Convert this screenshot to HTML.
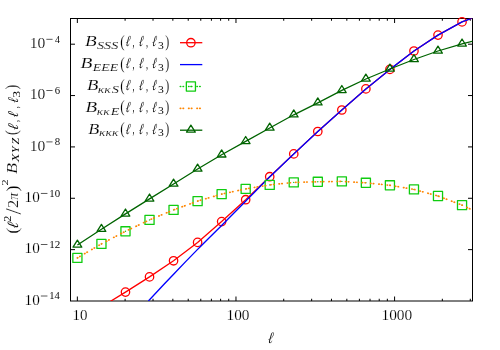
<!DOCTYPE html>
<html><head><meta charset="utf-8"><title>plot</title>
<style>html,body{margin:0;padding:0;background:#fff;}svg{display:block;will-change:transform;}text{font-family:"Liberation Serif",serif;fill:#000;}.i{font-style:italic;}</style></head><body>
<svg width="500" height="350" viewBox="0 0 500 350">
<rect width="500" height="350" fill="#fff"/>
<defs><clipPath id="c"><rect x="70.50" y="18.50" width="402.00" height="282.50"/></clipPath></defs>
<path d="M77.35 301.00v-4.50M77.35 18.50v4.50M125.10 301.00v-2.25M125.10 18.50v2.25M153.03 301.00v-2.25M153.03 18.50v2.25M172.85 301.00v-2.25M172.85 18.50v2.25M188.22 301.00v-2.25M188.22 18.50v2.25M200.78 301.00v-2.25M200.78 18.50v2.25M211.40 301.00v-2.25M211.40 18.50v2.25M220.60 301.00v-2.25M220.60 18.50v2.25M228.71 301.00v-2.25M228.71 18.50v2.25M235.97 301.00v-4.50M235.97 18.50v4.50M283.72 301.00v-2.25M283.72 18.50v2.25M311.65 301.00v-2.25M311.65 18.50v2.25M331.47 301.00v-2.25M331.47 18.50v2.25M346.84 301.00v-2.25M346.84 18.50v2.25M359.40 301.00v-2.25M359.40 18.50v2.25M370.02 301.00v-2.25M370.02 18.50v2.25M379.22 301.00v-2.25M379.22 18.50v2.25M387.33 301.00v-2.25M387.33 18.50v2.25M394.59 301.00v-4.50M394.59 18.50v4.50M442.34 301.00v-2.25M442.34 18.50v2.25M470.27 301.00v-2.25M470.27 18.50v2.25M70.50 249.64h4.50M472.50 249.64h-4.50M70.50 198.28h4.50M472.50 198.28h-4.50M70.50 146.92h4.50M472.50 146.92h-4.50M70.50 95.56h4.50M472.50 95.56h-4.50M70.50 44.20h4.50M472.50 44.20h-4.50" stroke="#000" stroke-width="1" fill="none"/>
<rect x="70.50" y="18.50" width="402.00" height="282.50" fill="none" stroke="#000" stroke-width="1"/>
<g clip-path="url(#c)" fill="none" stroke-linejoin="round"><polyline points="77.40,321.00 101.44,306.90 125.48,292.10 149.52,276.90 173.56,260.80 197.60,242.40 221.64,221.60 245.68,199.70 269.72,176.70 293.76,153.90 317.80,131.50 341.84,110.00 365.88,88.90 389.92,69.40 413.96,51.00 438.00,35.10 462.04,21.90 486.08,13.00" stroke="#ff0000" stroke-width="1.30"/></g>
<circle cx="125.48" cy="292.10" r="4.20" stroke="#ff0000" stroke-width="1.30" fill="none"/>
<circle cx="149.52" cy="276.90" r="4.20" stroke="#ff0000" stroke-width="1.30" fill="none"/>
<circle cx="173.56" cy="260.80" r="4.20" stroke="#ff0000" stroke-width="1.30" fill="none"/>
<circle cx="197.60" cy="242.40" r="4.20" stroke="#ff0000" stroke-width="1.30" fill="none"/>
<circle cx="221.64" cy="221.60" r="4.20" stroke="#ff0000" stroke-width="1.30" fill="none"/>
<circle cx="245.68" cy="199.70" r="4.20" stroke="#ff0000" stroke-width="1.30" fill="none"/>
<circle cx="269.72" cy="176.70" r="4.20" stroke="#ff0000" stroke-width="1.30" fill="none"/>
<circle cx="293.76" cy="153.90" r="4.20" stroke="#ff0000" stroke-width="1.30" fill="none"/>
<circle cx="317.80" cy="131.50" r="4.20" stroke="#ff0000" stroke-width="1.30" fill="none"/>
<circle cx="341.84" cy="110.00" r="4.20" stroke="#ff0000" stroke-width="1.30" fill="none"/>
<circle cx="365.88" cy="88.90" r="4.20" stroke="#ff0000" stroke-width="1.30" fill="none"/>
<circle cx="389.92" cy="69.40" r="4.20" stroke="#ff0000" stroke-width="1.30" fill="none"/>
<circle cx="413.96" cy="51.00" r="4.20" stroke="#ff0000" stroke-width="1.30" fill="none"/>
<circle cx="438.00" cy="35.10" r="4.20" stroke="#ff0000" stroke-width="1.30" fill="none"/>
<circle cx="462.04" cy="21.90" r="4.20" stroke="#ff0000" stroke-width="1.30" fill="none"/>
<g clip-path="url(#c)" fill="none" stroke-linejoin="round"><path d="M148.40 301.00 C152.60 296.53 165.40 282.80 173.60 274.20 C181.80 265.60 189.60 257.53 197.60 249.40 C205.60 241.27 213.60 233.42 221.60 225.40 C229.60 217.38 237.60 209.35 245.60 201.30 C253.60 193.25 261.57 185.00 269.60 177.10 C277.63 169.20 285.73 161.50 293.76 153.90 L317.80 131.50 L341.84 110.00 L365.88 88.90 L389.92 69.40 L413.96 51.00 L438.00 35.10 L462.04 21.90 L486.08 13.00" stroke="#0000ff" stroke-width="1.35"/></g>
<rect x="72.85" y="253.35" width="9.10" height="9.10" stroke="#10cc10" stroke-width="1.30" fill="none" stroke-linejoin="round"/><circle cx="77.40" cy="257.90" r="0.7" fill="#10cc10"/>
<rect x="96.89" y="239.35" width="9.10" height="9.10" stroke="#10cc10" stroke-width="1.30" fill="none" stroke-linejoin="round"/><circle cx="101.44" cy="243.90" r="0.7" fill="#10cc10"/>
<rect x="120.93" y="226.75" width="9.10" height="9.10" stroke="#10cc10" stroke-width="1.30" fill="none" stroke-linejoin="round"/><circle cx="125.48" cy="231.30" r="0.7" fill="#10cc10"/>
<rect x="144.97" y="215.35" width="9.10" height="9.10" stroke="#10cc10" stroke-width="1.30" fill="none" stroke-linejoin="round"/><circle cx="149.52" cy="219.90" r="0.7" fill="#10cc10"/>
<rect x="169.01" y="205.35" width="9.10" height="9.10" stroke="#10cc10" stroke-width="1.30" fill="none" stroke-linejoin="round"/><circle cx="173.56" cy="209.90" r="0.7" fill="#10cc10"/>
<rect x="193.05" y="196.55" width="9.10" height="9.10" stroke="#10cc10" stroke-width="1.30" fill="none" stroke-linejoin="round"/><circle cx="197.60" cy="201.10" r="0.7" fill="#10cc10"/>
<rect x="217.09" y="189.55" width="9.10" height="9.10" stroke="#10cc10" stroke-width="1.30" fill="none" stroke-linejoin="round"/><circle cx="221.64" cy="194.10" r="0.7" fill="#10cc10"/>
<rect x="241.13" y="184.35" width="9.10" height="9.10" stroke="#10cc10" stroke-width="1.30" fill="none" stroke-linejoin="round"/><circle cx="245.68" cy="188.90" r="0.7" fill="#10cc10"/>
<rect x="265.17" y="180.35" width="9.10" height="9.10" stroke="#10cc10" stroke-width="1.30" fill="none" stroke-linejoin="round"/><circle cx="269.72" cy="184.90" r="0.7" fill="#10cc10"/>
<rect x="289.21" y="177.85" width="9.10" height="9.10" stroke="#10cc10" stroke-width="1.30" fill="none" stroke-linejoin="round"/><circle cx="293.76" cy="182.40" r="0.7" fill="#10cc10"/>
<rect x="313.25" y="177.25" width="9.10" height="9.10" stroke="#10cc10" stroke-width="1.30" fill="none" stroke-linejoin="round"/><circle cx="317.80" cy="181.80" r="0.7" fill="#10cc10"/>
<rect x="337.29" y="176.85" width="9.10" height="9.10" stroke="#10cc10" stroke-width="1.30" fill="none" stroke-linejoin="round"/><circle cx="341.84" cy="181.40" r="0.7" fill="#10cc10"/>
<rect x="361.33" y="178.25" width="9.10" height="9.10" stroke="#10cc10" stroke-width="1.30" fill="none" stroke-linejoin="round"/><circle cx="365.88" cy="182.80" r="0.7" fill="#10cc10"/>
<rect x="385.37" y="180.75" width="9.10" height="9.10" stroke="#10cc10" stroke-width="1.30" fill="none" stroke-linejoin="round"/><circle cx="389.92" cy="185.30" r="0.7" fill="#10cc10"/>
<rect x="409.41" y="184.85" width="9.10" height="9.10" stroke="#10cc10" stroke-width="1.30" fill="none" stroke-linejoin="round"/><circle cx="413.96" cy="189.40" r="0.7" fill="#10cc10"/>
<rect x="433.45" y="191.45" width="9.10" height="9.10" stroke="#10cc10" stroke-width="1.30" fill="none" stroke-linejoin="round"/><circle cx="438.00" cy="196.00" r="0.7" fill="#10cc10"/>
<rect x="457.49" y="200.55" width="9.10" height="9.10" stroke="#10cc10" stroke-width="1.30" fill="none" stroke-linejoin="round"/><circle cx="462.04" cy="205.10" r="0.7" fill="#10cc10"/>
<g clip-path="url(#c)" fill="none" stroke-linejoin="round"><polyline points="77.40,257.90 101.44,243.90 125.48,231.30 149.52,219.90 173.56,209.90 197.60,201.10 221.64,194.10 245.68,188.90 269.72,184.90 293.76,182.40 317.80,181.80 341.84,181.40 365.88,182.80 389.92,185.30 413.96,189.40 438.00,196.00 462.04,205.10 486.08,216.50" stroke="#ff8600" stroke-width="1.70" stroke-dasharray="0.4 2.4 0.4 5.13" stroke-linecap="round"/></g>
<g clip-path="url(#c)" fill="none" stroke-linejoin="round"><polyline points="77.40,245.00 101.44,229.20 125.48,213.90 149.52,198.90 173.56,184.00 197.60,169.00 221.64,154.80 245.68,141.40 269.72,128.00 293.76,114.80 317.80,102.80 341.84,90.40 365.88,79.00 389.92,69.00 413.96,59.50 438.00,51.00 462.04,43.90 486.08,37.80" stroke="#006400" stroke-width="1.30"/></g>
<path d="M77.40 240.13L73.05 247.18L81.75 247.18Z" stroke="#006400" stroke-width="1.30" fill="none" stroke-linejoin="round"/>
<path d="M101.44 224.33L97.09 231.38L105.79 231.38Z" stroke="#006400" stroke-width="1.30" fill="none" stroke-linejoin="round"/>
<path d="M125.48 209.03L121.13 216.08L129.83 216.08Z" stroke="#006400" stroke-width="1.30" fill="none" stroke-linejoin="round"/>
<path d="M149.52 194.03L145.17 201.08L153.87 201.08Z" stroke="#006400" stroke-width="1.30" fill="none" stroke-linejoin="round"/>
<path d="M173.56 179.13L169.21 186.18L177.91 186.18Z" stroke="#006400" stroke-width="1.30" fill="none" stroke-linejoin="round"/>
<path d="M197.60 164.13L193.25 171.18L201.95 171.18Z" stroke="#006400" stroke-width="1.30" fill="none" stroke-linejoin="round"/>
<path d="M221.64 149.93L217.29 156.98L225.99 156.98Z" stroke="#006400" stroke-width="1.30" fill="none" stroke-linejoin="round"/>
<path d="M245.68 136.53L241.33 143.58L250.03 143.58Z" stroke="#006400" stroke-width="1.30" fill="none" stroke-linejoin="round"/>
<path d="M269.72 123.13L265.37 130.18L274.07 130.18Z" stroke="#006400" stroke-width="1.30" fill="none" stroke-linejoin="round"/>
<path d="M293.76 109.93L289.41 116.97L298.11 116.97Z" stroke="#006400" stroke-width="1.30" fill="none" stroke-linejoin="round"/>
<path d="M317.80 97.93L313.45 104.97L322.15 104.97Z" stroke="#006400" stroke-width="1.30" fill="none" stroke-linejoin="round"/>
<path d="M341.84 85.53L337.49 92.58L346.19 92.58Z" stroke="#006400" stroke-width="1.30" fill="none" stroke-linejoin="round"/>
<path d="M365.88 74.13L361.53 81.17L370.23 81.17Z" stroke="#006400" stroke-width="1.30" fill="none" stroke-linejoin="round"/>
<path d="M389.92 64.13L385.57 71.17L394.27 71.17Z" stroke="#006400" stroke-width="1.30" fill="none" stroke-linejoin="round"/>
<path d="M413.96 54.63L409.61 61.67L418.31 61.67Z" stroke="#006400" stroke-width="1.30" fill="none" stroke-linejoin="round"/>
<path d="M438.00 46.13L433.65 53.17L442.35 53.17Z" stroke="#006400" stroke-width="1.30" fill="none" stroke-linejoin="round"/>
<path d="M462.04 39.03L457.69 46.07L466.39 46.07Z" stroke="#006400" stroke-width="1.30" fill="none" stroke-linejoin="round"/>
<text transform="matrix(0.15217 0 0 0.15264 24.563 304.851)" font-size="100" stroke="#fff" stroke-width="1.0">10</text>
<rect x="40.85" y="295.68" width="6.60" height="0.65" fill="#000"/>
<text transform="matrix(0.10597 0 0 0.11361 49.269 299.400)" font-size="100" stroke="#fff" stroke-width="0.2">14</text>
<text transform="matrix(0.15217 0 0 0.15264 24.563 253.491)" font-size="100" stroke="#fff" stroke-width="1.0">10</text>
<rect x="40.85" y="244.32" width="6.60" height="0.65" fill="#000"/>
<text transform="matrix(0.11086 0 0 0.11327 49.226 248.040)" font-size="100" stroke="#fff" stroke-width="0.2">12</text>
<text transform="matrix(0.15217 0 0 0.15264 24.563 202.131)" font-size="100" stroke="#fff" stroke-width="1.0">10</text>
<rect x="40.85" y="192.96" width="6.60" height="0.65" fill="#000"/>
<text transform="matrix(0.10869 0 0 0.11114 49.245 196.571)" font-size="100" stroke="#fff" stroke-width="0.2">10</text>
<text transform="matrix(0.15560 0 0 0.15264 29.732 150.771)" font-size="100" stroke="#fff" stroke-width="1.0">10</text>
<rect x="46.35" y="141.60" width="6.20" height="0.65" fill="#000"/>
<text transform="matrix(0.10853 0 0 0.11114 54.687 145.211)" font-size="100" stroke="#fff" stroke-width="0.2">8</text>
<text transform="matrix(0.15560 0 0 0.15264 29.732 99.411)" font-size="100" stroke="#fff" stroke-width="1.0">10</text>
<rect x="46.35" y="90.24" width="6.20" height="0.65" fill="#000"/>
<text transform="matrix(0.10767 0 0 0.11163 54.637 93.851)" font-size="100" stroke="#fff" stroke-width="0.2">6</text>
<text transform="matrix(0.15560 0 0 0.15264 29.732 48.051)" font-size="100" stroke="#fff" stroke-width="1.0">10</text>
<rect x="46.35" y="38.88" width="6.20" height="0.65" fill="#000"/>
<text transform="matrix(0.09896 0 0 0.11395 54.907 42.600)" font-size="100" stroke="#fff" stroke-width="0.2">4</text>
<text transform="matrix(0.14988 0 0 0.14523 72.583 319.858)" font-size="100" stroke="#fff" stroke-width="1.0">10</text>
<text transform="matrix(0.15284 0 0 0.14523 226.557 319.858)" font-size="100" stroke="#fff" stroke-width="1.0">100</text>
<text transform="matrix(0.15368 0 0 0.14523 381.449 319.858)" font-size="100" stroke="#fff" stroke-width="1.0">1000</text>
<text transform="matrix(0.19151 0 0 0.15204 84.922 46.455)" font-size="100" class="i" stroke="#fff" stroke-width="1.0">B</text>
<text transform="matrix(0.13238 0 0 0.15991 120.318 46.796)" font-size="100" stroke="#fff" stroke-width="1.0">(</text>
<text transform="matrix(0.10339 0 -0.02068 0.15253 125.173 46.351)" font-size="100" class="i" stroke="#fff" stroke-width="0.3">&#8467;</text>
<text transform="matrix(0.10128 0 -0.02026 0.15253 138.486 46.351)" font-size="100" class="i" stroke="#fff" stroke-width="0.3">&#8467;</text>
<text transform="matrix(0.10128 0 -0.02026 0.15253 151.686 46.351)" font-size="100" class="i" stroke="#fff" stroke-width="0.3">&#8467;</text>
<text transform="matrix(0.08058 0 0 0.14406 132.593 46.884)" font-size="100" stroke="#fff" stroke-width="0.5">,</text>
<text transform="matrix(0.08058 0 0 0.14406 145.893 46.884)" font-size="100" stroke="#fff" stroke-width="0.5">,</text>
<text transform="matrix(0.11620 0 0 0.09972 157.944 48.803)" font-size="100" stroke="#fff" stroke-width="0.2">3</text>
<text transform="matrix(0.12070 0 0 0.15991 165.311 46.796)" font-size="100" stroke="#fff" stroke-width="1.0">)</text>
<text transform="matrix(0.19497 0 0 0.15204 80.519 68.355)" font-size="100" class="i" stroke="#fff" stroke-width="1.0">B</text>
<text transform="matrix(0.13238 0 0 0.15991 120.318 68.696)" font-size="100" stroke="#fff" stroke-width="1.0">(</text>
<text transform="matrix(0.10339 0 -0.02068 0.15253 125.173 68.251)" font-size="100" class="i" stroke="#fff" stroke-width="0.3">&#8467;</text>
<text transform="matrix(0.10128 0 -0.02026 0.15253 138.486 68.251)" font-size="100" class="i" stroke="#fff" stroke-width="0.3">&#8467;</text>
<text transform="matrix(0.10128 0 -0.02026 0.15253 151.686 68.251)" font-size="100" class="i" stroke="#fff" stroke-width="0.3">&#8467;</text>
<text transform="matrix(0.08058 0 0 0.14406 132.593 68.784)" font-size="100" stroke="#fff" stroke-width="0.5">,</text>
<text transform="matrix(0.08058 0 0 0.14406 145.893 68.784)" font-size="100" stroke="#fff" stroke-width="0.5">,</text>
<text transform="matrix(0.11620 0 0 0.09972 157.944 70.703)" font-size="100" stroke="#fff" stroke-width="0.2">3</text>
<text transform="matrix(0.12070 0 0 0.15991 165.311 68.696)" font-size="100" stroke="#fff" stroke-width="1.0">)</text>
<text transform="matrix(0.18634 0 0 0.15204 86.927 90.355)" font-size="100" class="i" stroke="#fff" stroke-width="1.0">B</text>
<text transform="matrix(0.13238 0 0 0.15991 120.318 90.696)" font-size="100" stroke="#fff" stroke-width="1.0">(</text>
<text transform="matrix(0.10339 0 -0.02068 0.15253 125.173 90.251)" font-size="100" class="i" stroke="#fff" stroke-width="0.3">&#8467;</text>
<text transform="matrix(0.10128 0 -0.02026 0.15253 138.486 90.251)" font-size="100" class="i" stroke="#fff" stroke-width="0.3">&#8467;</text>
<text transform="matrix(0.10128 0 -0.02026 0.15253 151.686 90.251)" font-size="100" class="i" stroke="#fff" stroke-width="0.3">&#8467;</text>
<text transform="matrix(0.08058 0 0 0.14406 132.593 90.784)" font-size="100" stroke="#fff" stroke-width="0.5">,</text>
<text transform="matrix(0.08058 0 0 0.14406 145.893 90.784)" font-size="100" stroke="#fff" stroke-width="0.5">,</text>
<text transform="matrix(0.11620 0 0 0.09972 157.944 92.703)" font-size="100" stroke="#fff" stroke-width="0.2">3</text>
<text transform="matrix(0.12070 0 0 0.15991 165.311 90.696)" font-size="100" stroke="#fff" stroke-width="1.0">)</text>
<text transform="matrix(0.18979 0 0 0.15204 85.524 111.755)" font-size="100" class="i" stroke="#fff" stroke-width="1.0">B</text>
<text transform="matrix(0.13238 0 0 0.15991 120.318 112.096)" font-size="100" stroke="#fff" stroke-width="1.0">(</text>
<text transform="matrix(0.10339 0 -0.02068 0.15253 125.173 111.651)" font-size="100" class="i" stroke="#fff" stroke-width="0.3">&#8467;</text>
<text transform="matrix(0.10128 0 -0.02026 0.15253 138.486 111.651)" font-size="100" class="i" stroke="#fff" stroke-width="0.3">&#8467;</text>
<text transform="matrix(0.10128 0 -0.02026 0.15253 151.686 111.651)" font-size="100" class="i" stroke="#fff" stroke-width="0.3">&#8467;</text>
<text transform="matrix(0.08058 0 0 0.14406 132.593 112.184)" font-size="100" stroke="#fff" stroke-width="0.5">,</text>
<text transform="matrix(0.08058 0 0 0.14406 145.893 112.184)" font-size="100" stroke="#fff" stroke-width="0.5">,</text>
<text transform="matrix(0.11620 0 0 0.09972 157.944 114.103)" font-size="100" stroke="#fff" stroke-width="0.2">3</text>
<text transform="matrix(0.12070 0 0 0.15991 165.311 112.096)" font-size="100" stroke="#fff" stroke-width="1.0">)</text>
<text transform="matrix(0.18116 0 0 0.15204 88.232 133.655)" font-size="100" class="i" stroke="#fff" stroke-width="1.0">B</text>
<text transform="matrix(0.13238 0 0 0.15991 120.318 133.996)" font-size="100" stroke="#fff" stroke-width="1.0">(</text>
<text transform="matrix(0.10339 0 -0.02068 0.15253 125.173 133.551)" font-size="100" class="i" stroke="#fff" stroke-width="0.3">&#8467;</text>
<text transform="matrix(0.10128 0 -0.02026 0.15253 138.486 133.551)" font-size="100" class="i" stroke="#fff" stroke-width="0.3">&#8467;</text>
<text transform="matrix(0.10128 0 -0.02026 0.15253 151.686 133.551)" font-size="100" class="i" stroke="#fff" stroke-width="0.3">&#8467;</text>
<text transform="matrix(0.08058 0 0 0.14406 132.593 134.084)" font-size="100" stroke="#fff" stroke-width="0.5">,</text>
<text transform="matrix(0.08058 0 0 0.14406 145.893 134.084)" font-size="100" stroke="#fff" stroke-width="0.5">,</text>
<text transform="matrix(0.11620 0 0 0.09972 157.944 136.003)" font-size="100" stroke="#fff" stroke-width="0.2">3</text>
<text transform="matrix(0.12070 0 0 0.15991 165.311 133.996)" font-size="100" stroke="#fff" stroke-width="1.0">)</text>
<text transform="matrix(0.14265 0 0 0.11163 96.933 49.191)" font-size="100" class="i" stroke="#fff" stroke-width="1.3">SSS</text>
<text transform="matrix(0.13949 0 0 0.10843 92.763 71.100)" font-size="100" class="i" stroke="#fff" stroke-width="1.3">EEE</text>
<text transform="matrix(0.13703 0 0 0.10240 97.798 93.100)" font-size="100" class="i" stroke="#fff" stroke-width="1.3">&#954;&#954;</text>
<text transform="matrix(0.14402 0 0 0.11014 111.731 93.092)" font-size="100" class="i" stroke="#fff" stroke-width="1.3">S</text>
<text transform="matrix(0.13489 0 0 0.10240 96.806 114.500)" font-size="100" class="i" stroke="#fff" stroke-width="1.3">&#954;&#954;</text>
<text transform="matrix(0.14181 0 0 0.10691 110.666 114.500)" font-size="100" class="i" stroke="#fff" stroke-width="1.3">E</text>
<text transform="matrix(0.13507 0 0 0.10240 99.105 136.400)" font-size="100" class="i" stroke="#fff" stroke-width="1.3">&#954;&#954;&#954;</text>
<path d="M180.00 42.70H202.30" stroke="#ff0000" stroke-width="1.30"/>
<circle cx="190.90" cy="42.70" r="4.20" stroke="#ff0000" stroke-width="1.30" fill="none"/>
<path d="M180.00 64.60H202.30" stroke="#0000ff" stroke-width="1.30"/>
<path d="M180.30 86.50H202.30" stroke="#10cc10" stroke-width="1.60" stroke-dasharray="0.4 2.4 0.4 5.13" stroke-linecap="round"/>
<rect x="186.35" y="81.95" width="9.10" height="9.10" stroke="#10cc10" stroke-width="1.30" fill="none" stroke-linejoin="round"/><circle cx="190.90" cy="86.50" r="0.7" fill="#10cc10"/>
<path d="M180.30 108.30H202.30" stroke="#ff8600" stroke-width="1.70" stroke-dasharray="0.4 2.4 0.4 5.13" stroke-linecap="round"/>
<path d="M180.00 130.20H202.30" stroke="#006400" stroke-width="1.30"/>
<path d="M190.90 125.13L186.55 132.18L195.25 132.18Z" stroke="#006400" stroke-width="1.30" fill="none" stroke-linejoin="round"/>
<text transform="matrix(0.12027 0 -0.02405 0.15993 267.571 342.644)" font-size="100" class="i" stroke="#fff" stroke-width="0.3">&#8467;</text>
<g transform="rotate(-90)">
<text transform="matrix(0.17910 0 0 0.16984 -233.787 18.084)" font-size="100" stroke="#fff" stroke-width="1.0">(</text>
<text transform="matrix(0.14348 0 -0.02870 0.15697 -228.970 18.047)" font-size="100" class="i" stroke="#fff" stroke-width="0.3">&#8467;</text>
<text transform="matrix(0.12223 0 0 0.09515 -221.837 11.400)" font-size="100" stroke="#fff" stroke-width="0.2">2</text>
<text transform="matrix(0.22676 0 0 0.22124 -214.500 20.884)" font-size="100" stroke="#fff" stroke-width="1.0">/</text>
<text transform="matrix(0.16464 0 0 0.14650 -208.024 17.700)" font-size="100" stroke="#fff" stroke-width="1.0">2</text>
<text transform="matrix(0.13885 0 0 0.14933 -199.675 17.554)" font-size="100" class="i" stroke="#fff" stroke-width="1.0">&#960;</text>
<text transform="matrix(0.17910 0 0 0.16984 -191.577 18.084)" font-size="100" stroke="#fff" stroke-width="1.0">)</text>
<text transform="matrix(0.12223 0 0 0.08911 -185.537 7.900)" font-size="100" stroke="#fff" stroke-width="0.2">2</text>
<text transform="matrix(0.18116 0 0 0.14292 -174.068 16.558)" font-size="100" class="i" stroke="#fff" stroke-width="1.0">B</text>
<text transform="matrix(0.13752 0 0 0.09469 -162.043 19.400)" font-size="100" class="i" stroke="#fff" stroke-width="0.2">X</text>
<text transform="matrix(0.11907 0 0 0.09469 -152.980 19.400)" font-size="100" class="i" stroke="#fff" stroke-width="0.2">Y</text>
<text transform="matrix(0.11951 0 0 0.09469 -144.446 19.400)" font-size="100" class="i" stroke="#fff" stroke-width="0.2">Z</text>
<text transform="matrix(0.14017 0 0 0.15771 -134.916 17.143)" font-size="100" stroke="#fff" stroke-width="1.0">(</text>
<text transform="matrix(0.13715 0 -0.02743 0.14956 -130.532 17.554)" font-size="100" class="i" stroke="#fff" stroke-width="0.3">&#8467;</text>
<text transform="matrix(0.08058 0 0 0.13238 -122.007 18.264)" font-size="100" stroke="#fff" stroke-width="0.5">,</text>
<text transform="matrix(0.12660 0 -0.02532 0.14956 -117.668 17.554)" font-size="100" class="i" stroke="#fff" stroke-width="0.3">&#8467;</text>
<text transform="matrix(0.08058 0 0 0.13238 -108.307 18.264)" font-size="100" stroke="#fff" stroke-width="0.5">,</text>
<text transform="matrix(0.11605 0 -0.02321 0.14956 -103.304 17.554)" font-size="100" class="i" stroke="#fff" stroke-width="0.3">&#8467;</text>
<text transform="matrix(0.13799 0 0 0.09823 -97.760 19.804)" font-size="100" stroke="#fff" stroke-width="0.2">3</text>
<text transform="matrix(0.14406 0 0 0.15771 -89.564 17.143)" font-size="100" stroke="#fff" stroke-width="1.0">)</text>
</g>
</svg></body></html>
